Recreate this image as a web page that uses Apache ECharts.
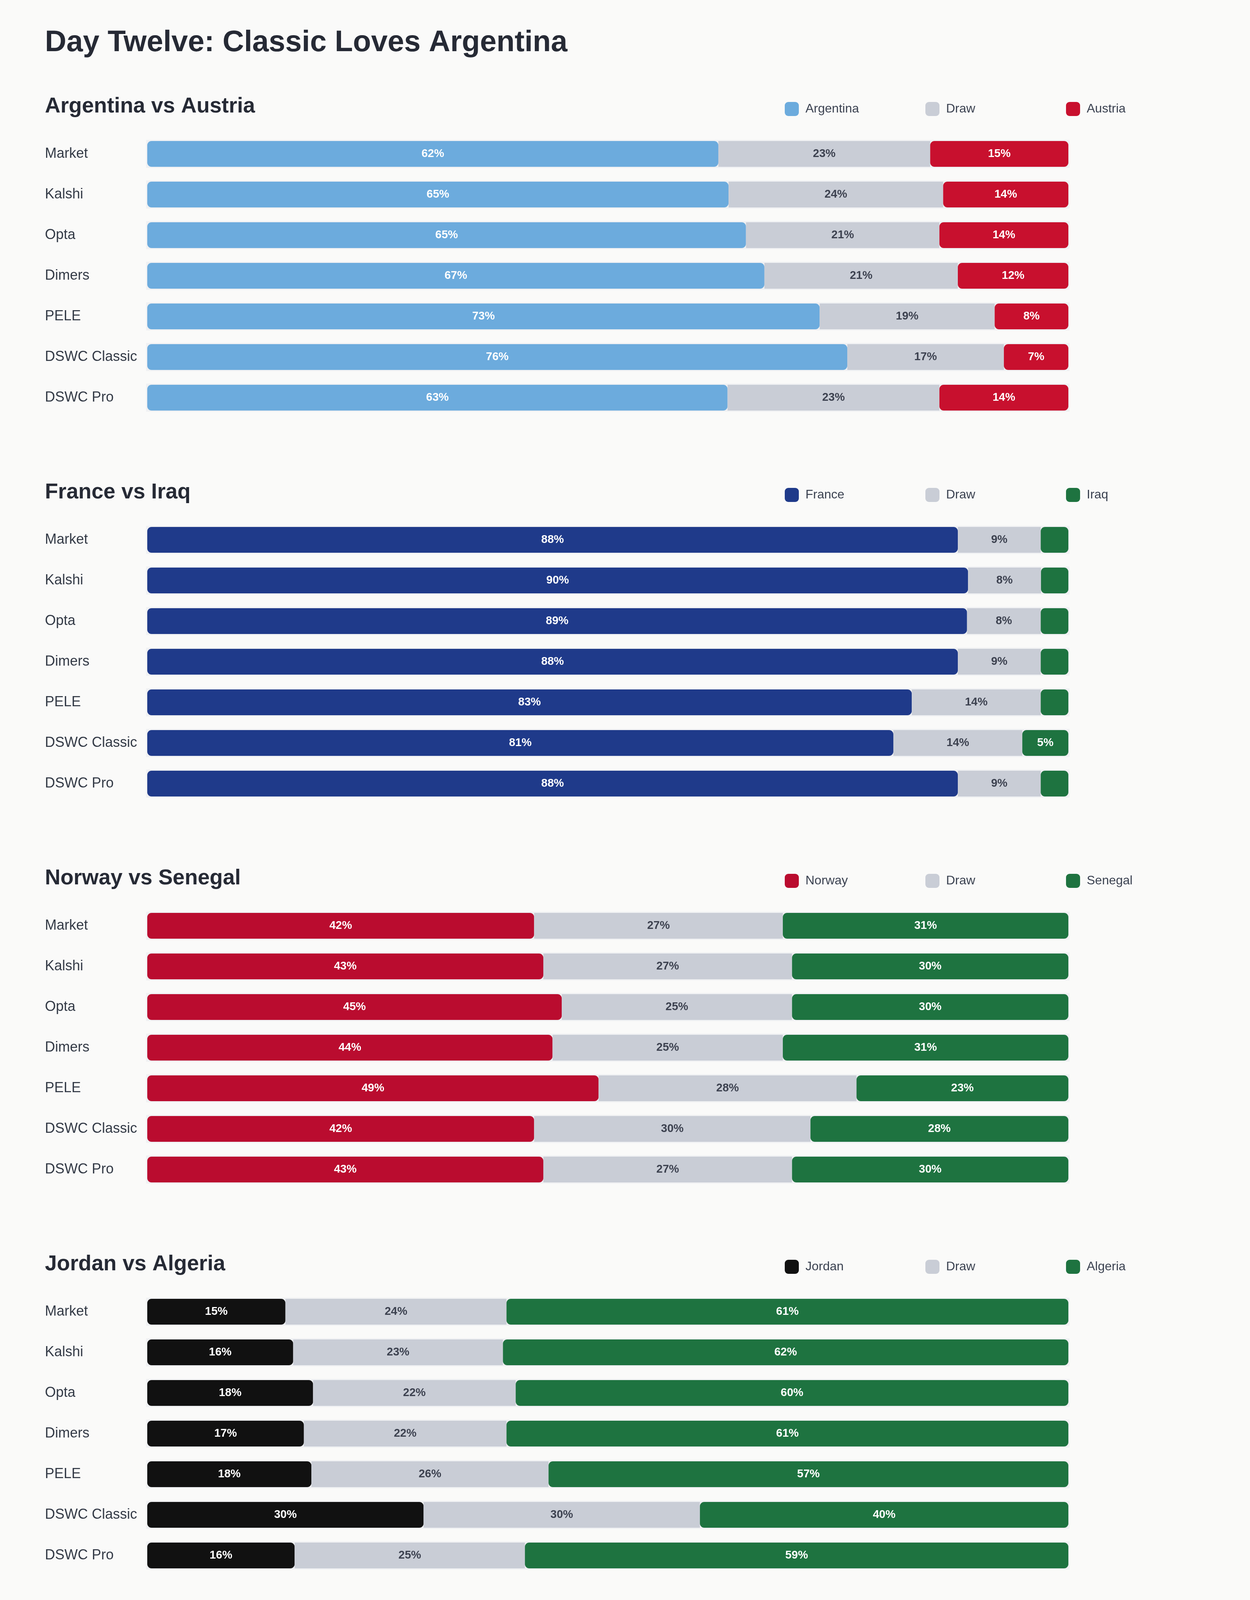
<!DOCTYPE html>
<html>
<head>
<meta charset="utf-8">
<script src="https://cdn.jsdelivr.net/npm/echarts@6/dist/echarts.min.js"></script>
<style>
html,body{margin:0;padding:0;background:#fafaf9;}
#chart{width:3200px;height:4392px;}
</style>
</head>
<body>
<div id="chart"></div>
<script>
const sources = ['Market', 'Kalshi', 'Opta', 'Dimers', 'PELE', 'DSWC Classic', 'DSWC Pro'];

const matchTitles = ['Argentina vs Austria', 'France vs Iraq', 'Norway vs Senegal', 'Jordan vs Algeria'];
const homeTeams = ['Argentina', 'France', 'Norway', 'Jordan'];
const awayTeams = ['Austria', 'Iraq', 'Senegal', 'Algeria'];

const argentinaWin = [62, 65, 65, 67, 73, 76, 63];
const argentinaDraw = [23, 24, 21, 21, 19, 17, 23];
const austriaWin = [15, 14, 14, 12, 8, 7, 14];

const franceWin = [88, 90, 89, 88, 83, 81, 88];
const franceDraw = [9, 8, 8, 9, 14, 14, 9];
const iraqWin = [3, 3, 3, 3, 3, 5, 3];

const norwayWin = [42, 43, 45, 44, 49, 42, 43];
const norwayDraw = [27, 27, 25, 25, 28, 30, 27];
const senegalWin = [31, 30, 30, 31, 23, 28, 30];

const jordanWin = [15, 16, 18, 17, 18, 30, 16];
const jordanDraw = [24, 23, 22, 22, 26, 30, 25];
const algeriaWin = [61, 62, 60, 61, 57, 40, 59];

const homeColors = ['#6cabdd', '#1f3a8a', '#ba0c2f', '#111111'];
const drawColor = '#c9cdd6';
const awayColors = ['#c8102e', '#1e7340', '#1e7340', '#1e7340'];

const matchData = [
  [argentinaWin, argentinaDraw, austriaWin],
  [franceWin, franceDraw, iraqWin],
  [norwayWin, norwayDraw, senegalWin],
  [jordanWin, jordanDraw, algeriaWin]
];

const FONT = '"Liberation Sans", Arial, Helvetica, sans-serif';
const SECTION_PITCH = 988;
const GRID_TOP = 342;
const ROW_H = 104;

const grids = [], xAxes = [], yAxes = [], series = [], legends = [], graphics = [];

function label(text, x, y, font, fill, align) {
  return {
    type: 'text', silent: true, z: 10,
    style: { text: text, x: x, y: y, font: font, fill: fill,
      align: align || 'left', verticalAlign: 'middle',
      textAlign: align || 'left', textVerticalAlign: 'middle' }
  };
}

graphics.push(label('Day Twelve: Classic Loves Argentina', 115, 110, 'bold 76px ' + FONT, '#262a35'));

matchData.forEach((m, i) => {
  const off = i * SECTION_PITCH;
  grids.push({ left: 377, width: 2358, top: GRID_TOP + off, height: ROW_H * 7 });
  xAxes.push({ type: 'value', gridIndex: i, min: 0, max: 100, show: false });
  yAxes.push({
    type: 'category', gridIndex: i, data: sources, inverse: true,
    axisLine: { show: false }, axisTick: { show: false }, splitLine: { show: false },
    axisLabel: { margin: 262, align: 'left', fontSize: 36, color: '#333a46', fontFamily: FONT }
  });
  const totals = sources.map((_, k) => m[0][k] + m[1][k] + m[2][k]);
  const names = [homeTeams[i], 'Draw', awayTeams[i]];
  const colors = [homeColors[i], drawColor, awayColors[i]];
  const labelColors = ['#ffffff', '#3d4250', '#ffffff'];
  m.forEach((raw, j) => {
    const s = {
      type: 'bar', name: names[j], xAxisIndex: i, yAxisIndex: i, stack: 'match' + i,
      barWidth: 66,
      data: raw.map((v, k) => +(v / totals[k] * 100).toFixed(3)),
      itemStyle: { color: colors[j], borderRadius: j === 1 ? 0 : 11 },
      label: {
        show: true, position: 'inside', fontSize: 29, fontWeight: 'bold', fontFamily: FONT,
        color: labelColors[j],
        formatter: (p) => raw[p.dataIndex] >= 4 ? raw[p.dataIndex] + '%' : ''
      },
      emphasis: { disabled: true },
      z: 3
    };
    if (j === 0) {
      s.showBackground = true;
      s.backgroundStyle = { color: '#f0f1f3', borderColor: '#f0f1f3', borderWidth: 6 };
    }
    series.push(s);
  });
  graphics.push(label(matchTitles[i], 115, 273 + off, 'bold 55px ' + FONT, '#262a35'));
  const lx = [2004, 2364, 2724];
  names.forEach((n, j) => {
    legends.push({
      left: lx[j], top: 256 + off, orient: 'horizontal',
      data: [n], icon: 'roundRect', itemWidth: 36, itemHeight: 36, itemGap: 0,
      textStyle: { fontSize: 32, color: '#3a4150', fontFamily: FONT, padding: [0, 0, 0, 12] },
      selectedMode: false
    });
  });
});

// footer
graphics.push(label('DSWC Classic: adjusted Elo gap (incl. +60 home advantage for host nations) through a win/draw/loss curve fit to 32,214 internationals since 1990.', 115, 4162, '30px ' + FONT, '#6b7588'));
graphics.push({
  type: 'rect', silent: true, z: 10,
  shape: { x: 117, y: 4216, width: 79, height: 80, r: 14 },
  style: { fill: '#13293f', stroke: '#b85c3c', lineWidth: 4 }
});
graphics.push(label('T', 157, 4258, 'italic 52px "DejaVu Serif", serif', '#c0603e', 'center'));
graphics.push(label('Thibodeau Consulting LLC', 217, 4257, '32px ' + FONT, '#6b7588'));

const chart = echarts.init(document.getElementById('chart'), null, { renderer: 'canvas' });
chart.setOption({
  backgroundColor: '#fafaf9',
  animation: false,
  grid: grids,
  xAxis: xAxes,
  yAxis: yAxes,
  legend: legends,
  series: series,
  graphic: graphics
});
</script>
</body>
</html>
